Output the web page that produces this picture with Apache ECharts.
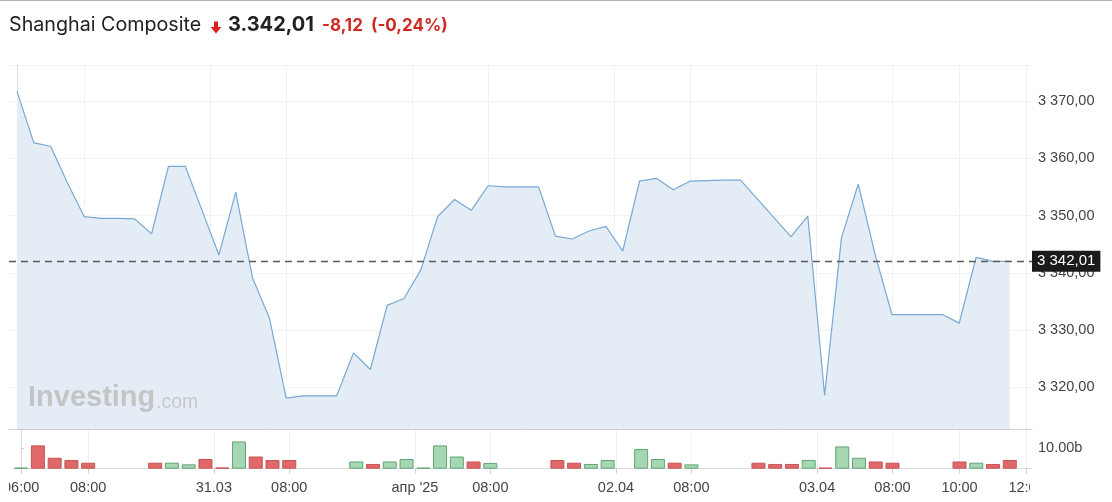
<!DOCTYPE html>
<html>
<head>
<meta charset="utf-8">
<script src="https://cdn.jsdelivr.net/npm/echarts@6/dist/echarts.min.js"></script>
<style>
  html, body { margin: 0; padding: 0; background: #fff; }
  #chart { width: 1112px; height: 502px; }
</style>
</head>
<body>
<div id="chart"></div>
<script>
// цены закрытия по 30-минутным интервалам
const priceValues = [
  3371.7, 3362.7, 3362.1, 3355.7, 3349.8, 3349.5, 3349.5, 3349.4, 3346.8, 3358.6,
  3358.6, 3350.9, 3343.1, 3354.1, 3339.1, 3332.1, 3318.1, 3318.5, 3318.5, 3318.5,
  3326.0, 3323.1, 3334.3, 3335.5, 3340.5, 3349.8, 3352.8, 3350.9, 3355.2, 3355.0,
  3355.0, 3355.0, 3346.4, 3345.9, 3347.3, 3348.1, 3343.8, 3356.0, 3356.5, 3354.5,
  3356.0, 3356.1, 3356.2, 3356.2, 3352.9, 3349.6, 3346.3, 3349.9, 3318.6, 3346.1,
  3355.5, 3343.2, 3332.7, 3332.7, 3332.7, 3332.7, 3331.2, 3342.7, 3342.0, 3342.01
]
// объём, млрд
const volumeValues = [
  0.5, 11.3, 5.3, 4.2, 2.9, null, null, null, 2.9, 2.9,
  2.1, 4.7, 0.6, 13.2, 5.9, 4.2, 4.2, null, null, null,
  3.5, 2.3, 3.5, 4.7, 0.5, 11.3, 5.9, 3.5, 2.8, null,
  null, null, 4.2, 2.9, 2.3, 4.2, null, 9.5, 4.7, 2.9,
  2.1, null, null, null, 2.9, 2.3, 2.3, 4.2, 0.5, 10.8,
  5.3, 3.5, 2.9, null, null, null, 3.5, 2.9, 2.3, 4.2
]
// u - рост, d - падение
const volumeDir = [
  'u','d','d','d','d','','','','d','u',
  'u','d','d','u','d','d','d','','','',
  'u','d','u','u','u','u','u','d','u','',
  '','','d','d','u','u','','u','u','d',
  'u','','','','d','d','d','u','d','u',
  'u','d','d','','','','d','u','d','d'
]
const tickPositions = [0, 4, 11.5, 16, 23.5, 28, 35.5, 40, 47.5, 52, 56, 60]
const tickLabels = ['06:00', '08:00', '31.03', '08:00', 'апр \'25', '08:00', '02.04', '08:00', '03.04', '08:00', '10:00', '12:00']
const lastPrice = 3342.01

const chartInstance = echarts.init(document.getElementById('chart'))

/* 3370 -> "3 370,00" */
function fmtPrice(v){
  const s = v.toFixed(2).split('.')
  const int = s[0].replace(/\B(?=(\d{3})+(?!\d))/g, ' ')
  return int + ',' + s[1]
}
function fmtTime(v){
  const k = tickPositions.indexOf(v)
  return k >= 0 ? tickLabels[k] : ''
}

const axisFont = 'Liberation Sans, Arial, sans-serif'
const xMin = -0.475
const xMax = 60.325

const option = {
  animation: false,
  backgroundColor: '#fff',
  grid: [
    { left: 9, right: 80, top: 65, height: 364 },
    { left: 9, right: 80, top: 429.5, height: 39.2 }
  ],
  xAxis: [
    {
      type: 'value', gridIndex: 0, min: xMin, max: xMax,
      axisLine: { show: true, onZero: false, lineStyle: { color: '#cfcfcf' } },
      axisTick: { show: false, customValues: tickPositions },
      axisLabel: { show: false, customValues: tickPositions },
      splitLine: { show: true, lineStyle: { color: '#f1f1f1' } }
    },
    {
      type: 'value', gridIndex: 1, min: xMin, max: xMax,
      axisLine: { show: true, onZero: false, lineStyle: { color: '#dcdcdc' } },
      axisTick: { show: true, length: 5, customValues: tickPositions, lineStyle: { color: '#d0d0d0' } },
      axisLabel: {
        customValues: tickPositions,
        formatter: fmtTime,
        color: '#444', fontSize: 14.5, fontFamily: axisFont, margin: 12
      },
      splitLine: { show: true, lineStyle: { color: '#f1f1f1' } }
    }
  ],
  yAxis: [
    {
      type: 'value', gridIndex: 0, position: 'right',
      min: 3312.7, max: 3376.3, splitNumber: 6,
      axisLine: { show: true, lineStyle: { color: '#dcdcdc' } },
      axisTick: { show: true, length: 3, lineStyle: { color: '#cfcfcf' } },
      axisLabel: {
        showMinLabel: false, showMaxLabel: false,
        formatter: fmtPrice,
        color: '#444', fontSize: 14.5, fontFamily: axisFont, margin: 6
      },
      splitLine: { show: true, lineStyle: { color: '#f3f3f3' } }
    },
    {
      type: 'value', gridIndex: 1, position: 'right',
      min: 0, max: 19, interval: 10,
      axisLine: { show: true, lineStyle: { color: '#dcdcdc' } },
      axisTick: { show: true, length: 3, lineStyle: { color: '#cfcfcf' } },
      axisLabel: {
        showMinLabel: false, showMaxLabel: false,
        formatter: v => v.toFixed(2) + 'b',
        color: '#444', fontSize: 14.5, fontFamily: axisFont, margin: 6
      },
      splitLine: { show: false }
    }
  ],
  series: [
    {
      type: 'line',
      xAxisIndex: 0, yAxisIndex: 0,
      data: priceValues.map((v, i) => [i, v]),
      symbol: 'none',
      lineStyle: { color: '#78a8d3', width: 1.2 },
      areaStyle: { color: '#e4edf6', opacity: 1, origin: 'start' },
      markLine: {
        silent: true,
        symbol: ['none', 'none'],
        lineStyle: { color: '#5a5a5a', type: [7, 5], width: 1.3 },
        label: {
          position: 'end', distance: 0,
          formatter: () => fmtPrice(lastPrice),
          backgroundColor: '#1b1b1b', color: '#fff',
          fontSize: 15, fontFamily: axisFont,
          padding: [3, 5, 3, 5], borderRadius: 0
        },
        data: [{ yAxis: lastPrice }]
      }
    },
    {
      type: 'bar',
      xAxisIndex: 1, yAxisIndex: 1,
      barWidth: 14,
      data: volumeValues.map((v, i) => ({
        value: [i, v],
        itemStyle: volumeDir[i] === 'u'
          ? { color: '#a5d7b3', borderColor: '#62a476', borderWidth: 1 }
          : { color: '#e06868', borderColor: '#c65555', borderWidth: 1 }
      }))
    }
  ],
  graphic: [
    { type: 'line', shape: { x1: 0, y1: 0.5, x2: 1112, y2: 0.5 }, style: { stroke: '#b4b4b4', lineWidth: 1 } },
    {
      type: 'text', left: 9, top: 15.5,
      style: { text: 'Shanghai Composite', fill: '#222', font: '19.7px Inter, sans-serif' }
    },
    {
      type: 'polygon',
      shape: { points: [[214, 21.5], [218, 21.5], [218, 27], [221.5, 27], [216, 33.5], [210.5, 27], [214, 27]] },
      style: { fill: '#d8231b' }
    },
    {
      type: 'text', left: 228, top: 15,
      style: { text: '3.342,01', fill: '#222', font: 'bold 20px Inter, sans-serif' }
    },
    {
      type: 'text', left: 322, top: 17,
      style: { text: '-8,12', fill: '#d02a20', font: 'bold 17px Inter, sans-serif' }
    },
    {
      type: 'text', left: 371, top: 17,
      style: { text: '(-0,24%)', fill: '#d02a20', font: 'bold 17px Inter, sans-serif' }
    },
    {
      type: 'text', left: 28, top: 383, z: 5,
      style: { text: 'Investing', fill: '#c4c4c4', font: 'bold 29px Liberation Sans, Arial, sans-serif' }
    },
    {
      type: 'text', left: 156, top: 393, z: 5,
      style: { text: '.com', fill: '#c8c8c8', font: '19.5px Liberation Sans, Arial, sans-serif' }
    },
    // подписи оси обрезаются по краю области графика
    { type: 'rect', z: 100, shape: { x: 0, y: 475, width: 9, height: 27 }, style: { fill: '#fff' } },
    { type: 'rect', z: 100, shape: { x: 1030, y: 475, width: 82, height: 27 }, style: { fill: '#fff' } }
  ]
}

chartInstance.setOption(option)
</script>
</body>
</html>
